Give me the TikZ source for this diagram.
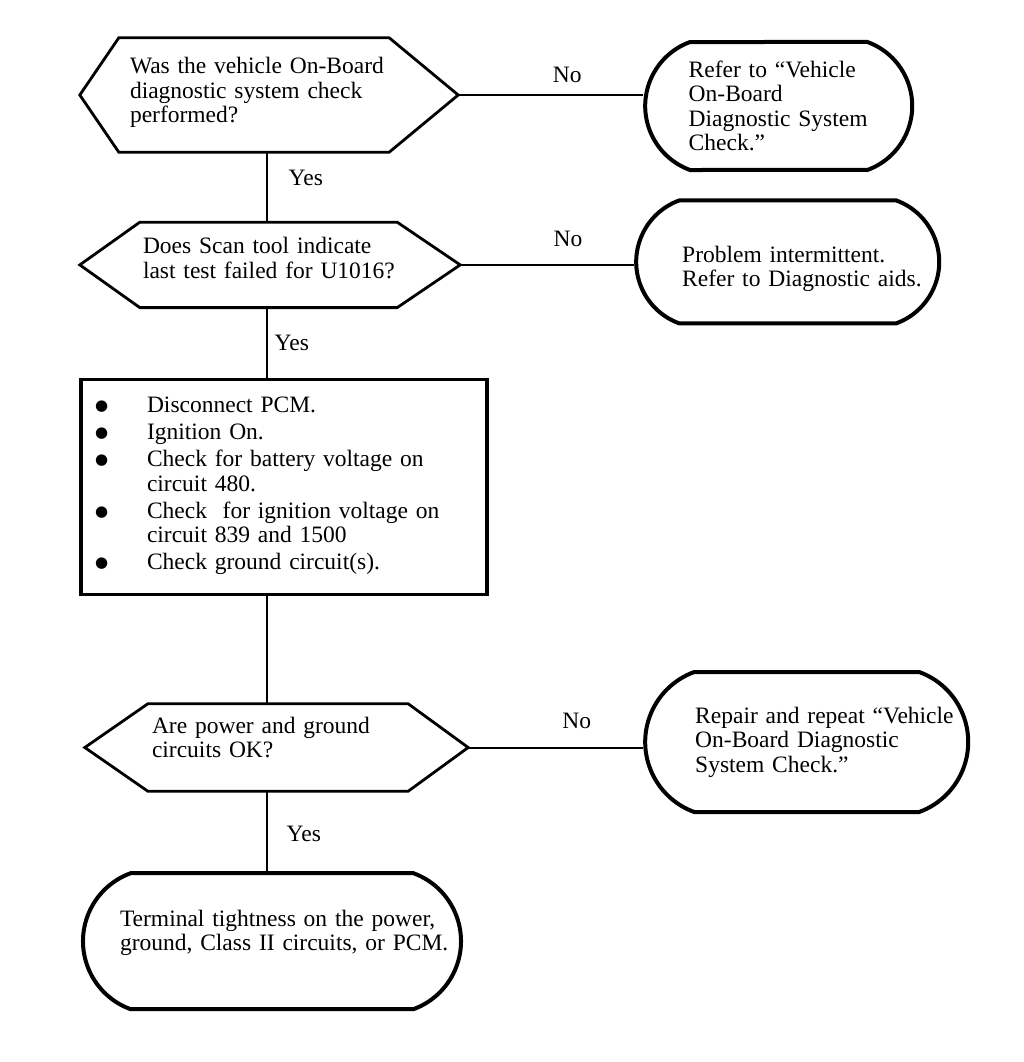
\documentclass[tikz,border=0pt]{standalone}
\usepackage{fontspec}
\setmainfont{Liberation Serif}
\newfontfamily\dotfont{DejaVu Sans}
\usetikzlibrary{positioning,shapes.misc}

\newcommand\bitem[1]{\par\noindent\hangindent=53pt\hangafter=1%
    \makebox[53pt][l]{\hspace{1pt}\raisebox{2pt}{\dotfont\fontsize{15}{15}\selectfont ●}}#1}
% push text up inside its shape, or down
\newcommand\lift[1]{\rule[-#1]{0pt}{0pt}}
\newcommand\drop[1]{\rule{0pt}{#1}}

\begin{document}
\begin{tikzpicture}[x=1pt, y=-1pt,
    every node/.style={font=\fontsize{23.5}{24.5}\selectfont},
    question/.style={inner sep=0pt, align=left},
    hexline/.style={line width=2.8pt, line join=miter},
    stepbox/.style={draw, rectangle, line width=3.2pt, inner sep=0pt, align=left},
    endbox/.style={draw, rounded rectangle, rounded rectangle arc length=140,
        line width=4pt, inner sep=0pt, align=left},
    wire/.style={line width=2pt},
    answer/.style={inner sep=2pt}]

    \useasboundingbox (0,0) rectangle (1024,1062);

    % decisions down the left side
    \node[question, minimum width=378pt, minimum height=114pt, text width=278pt] (q1) at (269,95)
        {Was the vehicle On-Board\\diagnostic system check\\performed?\lift{10pt}};
    \node[question, minimum width=380pt, minimum height=85pt, text width=254pt] (q2)
        [below=70pt of q1, xshift=1pt]
        {Does Scan tool indicate\\last test failed for U1016?\lift{14pt}};
    \node[stepbox, minimum width=406pt, minimum height=215pt, text width=380pt] (chk)
        [below=70pt of q2, xshift=14pt]
        {\setlength{\parskip}{2.5pt}%
         \bitem{Disconnect PCM.}
         \bitem{Ignition On.}
         \bitem{Check for battery voltage on\newline circuit 480.}
         \bitem{Check\ \ for ignition voltage on\newline circuit 839 and 1500}
         \bitem{Check ground circuit(s).\lift{18pt}}};
    \node[question, minimum width=383pt, minimum height=87pt, text width=249pt] (q3)
        [below=108pt of chk, xshift=-7.5pt]
        {Are power and ground\\circuits OK?\lift{20pt}};
    \node[endbox, minimum width=378pt, minimum height=136pt, text width=304pt] (t4)
        [below=80pt of q3, xshift=-4.5pt]
        {\mbox{Terminal tightness on the power,}\\\mbox{ground, Class II circuits, or PCM.}\lift{22pt}};

    % hexagon outlines
    \draw[hexline] (q1.west) -- ([xshift=39pt]q1.north west) -- ([xshift=-69pt]q1.north east)
        -- (q1.east) -- ([xshift=-69pt]q1.south east) -- ([xshift=39pt]q1.south west) -- cycle;
    \draw[hexline] (q2.west) -- ([xshift=60pt]q2.north west) -- ([xshift=-63pt]q2.north east)
        -- (q2.east) -- ([xshift=-63pt]q2.south east) -- ([xshift=60pt]q2.south west) -- cycle;
    \draw[hexline] (q3.west) -- ([xshift=63pt]q3.north west) -- ([xshift=-60pt]q3.north east)
        -- (q3.east) -- ([xshift=-60pt]q3.south east) -- ([xshift=63pt]q3.south west) -- cycle;

    % the "No" ends
    \node[endbox, minimum width=267pt, minimum height=128pt, text width=180pt] (t1)
        [right=185pt of q1, yshift=-11pt]
        {Refer to “Vehicle\\On-Board\\Diagnostic System\\Check.”};
    \node[endbox, minimum width=303pt, minimum height=123pt, text width=211pt] (t2)
        [right=174pt of q2, yshift=3pt]
        {\mbox{\drop{30pt}Problem intermittent.}\\\mbox{Refer to Diagnostic aids.}};
    \node[endbox, minimum width=323pt, minimum height=140pt, text width=223pt] (t3)
        [right=175pt of q3, yshift=5.5pt]
        {\mbox{Repair and repeat “Vehicle}\\\mbox{On-Board Diagnostic}\\\mbox{System Check.”}};

    \coordinate (spine) at (267,0);

    \draw[wire] (q1.south -| spine) -- node[answer, right=18.7pt, pos=0.37] {Yes} (q2.north -| spine);
    \draw[wire] (q2.south -| spine) -- node[answer, right=4.7pt, pos=0.51] {Yes} (chk.north -| spine);
    \draw[wire] (chk.south -| spine) -- (q3.north -| spine);
    \draw[wire] (q3.south -| spine) -- node[answer, right=16.7pt, pos=0.54] {Yes} (t4.north -| spine);

    \draw[wire] (q1.east) -- node[answer, above=9pt, pos=0.59] {No} (q1.east -| t1.west);
    \draw[wire] (q2.east) -- node[answer, above=15pt, pos=0.62] {No} (q2.east -| t2.west);
    \draw[wire] (q3.east) -- node[answer, above=16pt, pos=0.62] {No} (q3.east -| t3.west);
\end{tikzpicture}
\end{document}
